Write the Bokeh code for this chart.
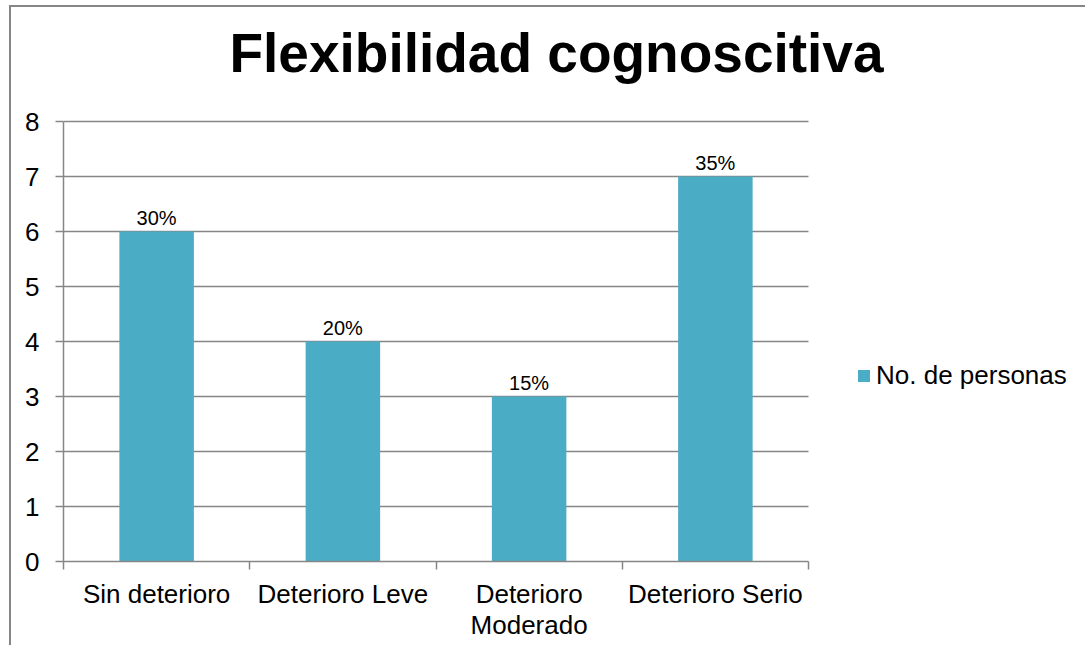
from bokeh.plotting import figure
from bokeh.models import (ColumnDataSource, FixedTicker, LabelSet, Legend, LegendItem,
                          Range1d, Label)
from bokeh.core.properties import value
from bokeh.embed import file_html
from bokeh.resources import INLINE

categories = ["Sin deterioro", "Deterioro Leve", "Deterioro Moderado", "Deterioro Serio"]
tick_labels = ["Sin deterioro", "Deterioro Leve", "Deterioro\nModerado", "Deterioro Serio"]
personas = [6, 4, 3, 7]
porcentajes = ["30%", "20%", "15%", "35%"]
y_ticks = [0, 1, 2, 3, 4, 5, 6, 7, 8]
titulo = "Flexibilidad cognoscitiva"
serie = "No. de personas"

FONT = "Liberation Sans"
GRAY = "#868686"
BAR = "#4BACC6"

n = len(categories)
y_max = y_ticks[-1]
xpos = [i + 0.5 for i in range(n)]
src = ColumnDataSource(dict(x=xpos, y=personas, pct=porcentajes, cat=categories))

FIG_W, FIG_H = 1076, 640
BORDER_L, BORDER_B = 52, 86
PLOT_W, PLOT_H = 745, 440  # pixel size of the visible plotting area
frame_w = FIG_W - BORDER_L
frame_h = FIG_H - BORDER_B
x_end = n * frame_w / PLOT_W
y_end = y_max * frame_h / PLOT_H

p = figure(width=FIG_W, height=FIG_H, output_backend="svg", toolbar_location=None,
           x_range=Range1d(0, x_end), y_range=Range1d(0, y_end),
           min_border_left=BORDER_L, min_border_top=0, min_border_right=0,
           min_border_bottom=BORDER_B)
p.styles = {"border-left": f"2px solid {GRAY}", "border-top": f"2px solid {GRAY}",
            "margin-left": "9px", "margin-top": "5px"}

p.outline_line_color = None
p.background_fill_color = "white"
p.border_fill_color = "white"

# grid lines limited to the category area
p.xgrid.grid_line_color = None
p.ygrid.ticker = FixedTicker(ticks=y_ticks)
p.ygrid.grid_line_color = GRAY
p.ygrid.grid_line_width = 1.5
if "cross_bounds" in p.ygrid.properties():
    p.ygrid.cross_bounds = (0, n)
else:
    p.ygrid.grid_line_color = None
    p.segment(x0=[0] * len(y_ticks), x1=[n] * len(y_ticks), y0=y_ticks, y1=y_ticks,
              line_color=GRAY, line_width=1.5)

r = p.vbar(x="x", top="y", width=0.4, source=src, fill_color=BAR, line_color=None)

labels = LabelSet(x="x", y="y", text="pct", source=src, text_align="center",
                  text_baseline="bottom", y_offset=3, text_font=value(FONT),
                  text_font_size="20px", text_color="black")
p.add_layout(labels)

# x axis
xa = p.xaxis[0]
xa.bounds = (0, n)
xa.ticker = FixedTicker(ticks=xpos, minor_ticks=list(range(n + 1)))
xa.major_label_overrides = {x: t for x, t in zip(xpos, tick_labels)}
xa.major_tick_line_color = None
xa.major_tick_out = 0
xa.major_tick_in = 0
xa.minor_tick_line_color = GRAY
xa.minor_tick_out = 8
xa.minor_tick_in = 0
xa.axis_line_color = GRAY
xa.axis_line_width = 1.5
xa.minor_tick_line_width = 1.5
xa.major_label_text_font = FONT
xa.major_label_text_font_size = "26px"
xa.major_label_text_line_height = 1.05
xa.major_label_text_color = "black"
xa.major_label_standoff = 9

# y axis
ya = p.yaxis[0]
ya.bounds = (0, y_max)
ya.ticker = FixedTicker(ticks=y_ticks)
ya.minor_tick_line_color = None
ya.major_tick_line_color = GRAY
ya.major_tick_out = 8
ya.major_tick_in = 0
ya.major_tick_line_width = 1.5
ya.axis_line_color = GRAY
ya.axis_line_width = 1.5
ya.major_label_text_font = FONT
ya.major_label_text_font_size = "26px"
ya.major_label_text_color = "black"
ya.major_label_standoff = 16

title = Label(x=493, y=509, x_units="screen", y_units="screen", text=titulo,
              text_align="center", text_baseline="alphabetic", text_font=FONT,
              text_font_size="55px", text_font_style="bold", text_color="black")
p.add_layout(title)

legend = Legend(items=[LegendItem(label=serie, renderers=[r])],
                location=(793, 170), margin=0, padding=0, border_line_color=None,
                background_fill_alpha=0, glyph_width=15, glyph_height=15,
                label_standoff=5, label_text_font=FONT, label_text_font_size="26px",
                label_text_color="black")
p.add_layout(legend, "center")

open("out.html", "w").write(file_html(p, INLINE))
